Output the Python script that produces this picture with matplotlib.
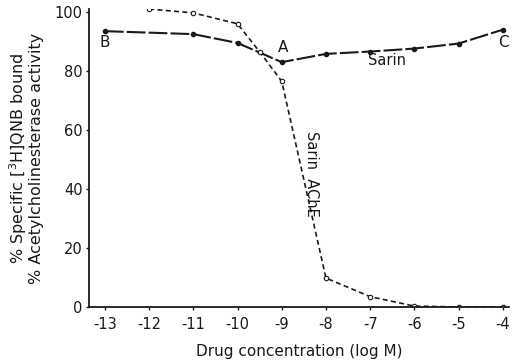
import matplotlib
matplotlib.use("Agg")
import matplotlib.pyplot as plt

x_sarin = [-13, -11, -10, -9, -8, -7, -6, -5, -4]
y_sarin = [93.5, 92.5, 89.5, 83, 85.8, 86.6, 87.6, 89.3, 94]

x_ache = [-12, -11, -10, -9.5, -9, -8, -7, -6, -5, -4]
y_ache = [101, 99.7, 96, 86.5, 76.5, 9.8, 3.5, 0.3, 0, 0]

xticks = [-13, -12, -11, -10, -9, -8, -7, -6, -5, -4]
yticks = [0, 20, 40, 60, 80, 100]

plt.rcParams['font.family'] = ['DejaVu Sans']
fig = plt.figure(figsize=(5.19, 3.62), dpi=100)
ax = fig.add_axes([0.1715, 0.152, 0.81, 0.823])

ink = '#1a1a1a'
ax.plot(x_sarin, y_sarin, color=ink, lw=1.5, linestyle=(0, (9, 1.5)),
        marker='o', ms=3.0, mfc=ink, mec=ink)
ax.plot(x_ache, y_ache, color=ink, lw=1.2, linestyle=(0, (3, 2)),
        marker='o', ms=3.2, mfc='white', mec=ink, mew=0.8)

ax.set_xlim(-13.36, -3.85)
ax.set_ylim(0, 101)
ax.set_xticks(xticks)
ax.set_xticklabels([str(t) for t in xticks])
ax.set_yticks(yticks)
for s in ['top', 'right']:
    ax.spines[s].set_visible(False)
for s in ['left', 'bottom']:
    ax.spines[s].set_linewidth(1.3)
    ax.spines[s].set_color(ink)
ax.tick_params(axis='both', direction='out', length=2.5, width=1, colors=ink,
               labelsize=10.5, pad=5)
ax.tick_params(axis='y', pad=2)

ax.set_xlabel('Drug concentration (log M)', fontsize=11, color=ink, labelpad=8)
ax.set_ylabel('% Specific [$^3$H]QNB bound\n% Acetylcholinesterase activity',
              fontsize=11.5, color=ink, labelpad=8, linespacing=0.95)

ax.text(-13, 89.5, 'B', fontsize=11, ha='center', va='center', color=ink)
ax.text(-8.98, 87.8, 'A', fontsize=11, ha='center', va='center', color=ink)
ax.text(-3.98, 89.5, 'C', fontsize=11, ha='center', va='center', color=ink)
ax.text(-6.62, 83.5, 'Sarin', fontsize=10.5, ha='center', va='center', color=ink)
ax.text(-8.32, 45, 'Sarin  AChE', fontsize=10.5, ha='center', va='center',
        rotation=270, color=ink)

fig.savefig('out.png', dpi=100)
